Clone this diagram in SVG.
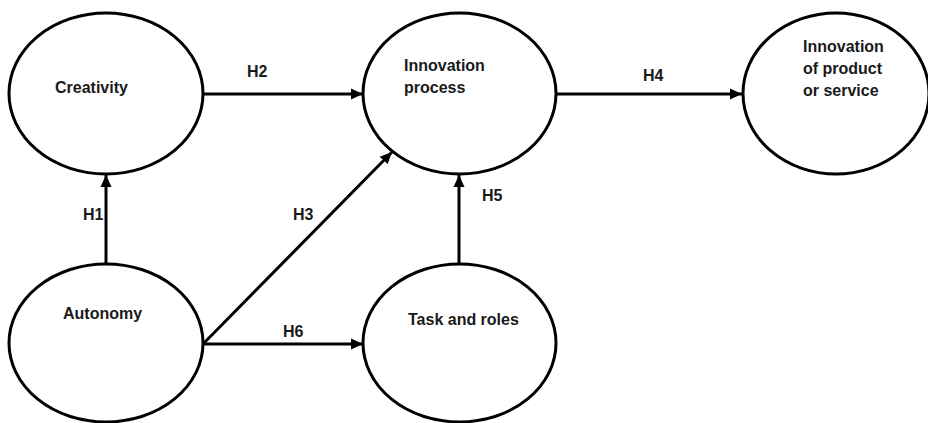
<svg xmlns="http://www.w3.org/2000/svg" width="928" height="423" viewBox="0 0 928 423">
<style>
.node ellipse{fill:#fff;stroke:#000;stroke-width:3}
text{font-family:"Liberation Sans",Arial,sans-serif;font-weight:bold;font-size:16px;fill:#1a1a1a}
.conn line{stroke:#000;stroke-width:3;marker-end:url(#ah)}
</style>
<defs>
<marker id="ah" markerUnits="userSpaceOnUse" markerWidth="14" markerHeight="12" refX="12" refY="6" orient="auto" viewBox="0 0 14 12">
<path d="M0,0.5 L12,6 L0,11.5 Z" fill="#000"/>
</marker>
</defs>
<g class="conn" id="connectors">
<line x1="106" y1="264" x2="106" y2="175"/>
<line x1="204" y1="94" x2="363" y2="94"/>
<line x1="557" y1="94" x2="742" y2="94"/>
<line x1="459" y1="264" x2="459" y2="175"/>
<line x1="204" y1="344" x2="363" y2="344"/>
<line x1="204" y1="343" x2="392" y2="152"/>
</g>
<g id="labels">
<text x="83" y="220">H1</text>
<text x="247" y="77">H2</text>
<text x="293" y="220">H3</text>
<text x="643" y="81">H4</text>
<text x="482" y="201">H5</text>
<text x="283" y="337">H6</text>
</g>
<g class="node" id="creativity">
<ellipse cx="106" cy="93.5" rx="97" ry="80.5"/>
<text x="55" y="93">Creativity</text>
</g>
<g class="node" id="innovation-process">
<ellipse cx="459.5" cy="93.5" rx="96.5" ry="80.5"/>
<text x="404" y="71">Innovation</text>
<text x="404" y="93">process</text>
</g>
<g class="node" id="innovation-product">
<ellipse cx="836" cy="93.5" rx="93" ry="80.5"/>
<text x="803" y="52">Innovation</text>
<text x="803" y="74">of product</text>
<text x="803" y="96">or service</text>
</g>
<g class="node" id="autonomy">
<ellipse cx="106" cy="343" rx="97" ry="79"/>
<text x="63" y="319">Autonomy</text>
</g>
<g class="node" id="task-roles">
<ellipse cx="459.5" cy="343" rx="96.5" ry="79"/>
<text x="408" y="325">Task and roles</text>
</g>
</svg>
